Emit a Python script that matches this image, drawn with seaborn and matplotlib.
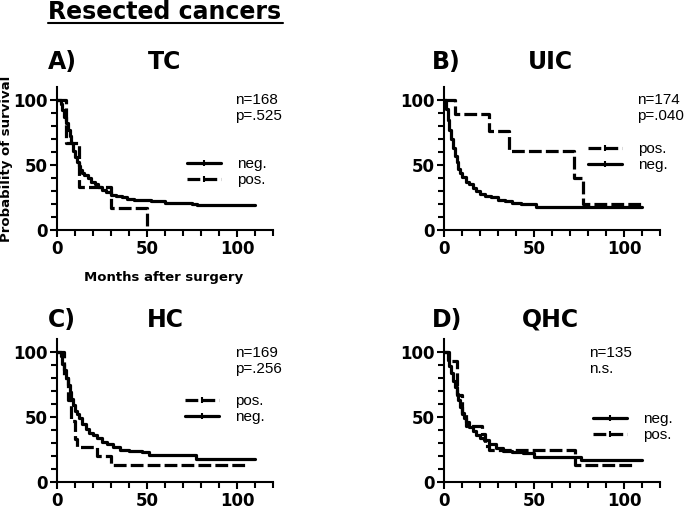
import pandas as pd
import matplotlib
matplotlib.use("Agg")
import matplotlib.pyplot as plt
import seaborn as sns
from matplotlib.lines import Line2D
from matplotlib.ticker import FixedLocator

# ----------------------------------------------------------------
# Kaplan-Meier step data (months, % survival)
# ----------------------------------------------------------------
A_neg_t = [0, 2, 3, 4, 5, 6, 7, 8, 9, 10, 11, 12, 13, 14, 15, 17, 19, 21, 23, 25, 27, 30, 33, 36, 39, 43, 47, 52, 60, 68, 75, 78, 90, 100, 110]
A_neg_s = [100, 97, 92, 87, 82, 77, 72, 67, 61, 56, 52, 49, 46, 44, 42, 40, 37, 35, 33, 31, 29, 27, 26, 25, 24, 23, 23, 22, 21, 21, 20, 19, 19, 19, 19]
A_pos_t = [0, 5, 12, 30, 50]
A_pos_s = [100, 67, 33, 17, 0]

B_neg_t = [0, 1, 2, 3, 4, 5, 6, 7, 8, 9, 10, 12, 14, 16, 18, 20, 23, 26, 30, 34, 38, 43, 48, 51, 60, 80, 100, 110]
B_neg_s = [100, 93, 85, 77, 70, 63, 57, 52, 47, 44, 41, 37, 35, 32, 30, 28, 26, 25, 23, 22, 21, 20, 20, 18, 18, 18, 18, 18]
B_pos_t = [0, 6, 25, 36, 72, 77, 110]
B_pos_s = [100, 89, 76, 61, 40, 20, 20]

C_neg_t = [0, 2, 3, 4, 5, 6, 7, 8, 9, 10, 11, 12, 14, 16, 18, 20, 22, 25, 28, 31, 35, 40, 47, 51, 60, 70, 77, 90, 110]
C_neg_s = [100, 97, 91, 86, 80, 75, 69, 64, 59, 55, 52, 49, 45, 41, 38, 36, 34, 31, 29, 27, 25, 24, 23, 21, 21, 21, 18, 18, 18]
C_pos_t = [0, 4, 6, 8, 10, 11, 22, 30, 105]
C_pos_s = [100, 80, 63, 47, 33, 27, 20, 13, 13]

D_neg_t = [0, 2, 3, 4, 5, 6, 7, 8, 9, 10, 11, 12, 14, 16, 18, 20, 22, 25, 29, 33, 38, 44, 50, 60, 72, 76, 90, 110]
D_neg_s = [100, 94, 89, 84, 78, 73, 68, 63, 58, 53, 49, 46, 42, 39, 36, 34, 32, 29, 26, 24, 23, 22, 19, 19, 19, 17, 17, 17]
D_pos_t = [0, 3, 7, 10, 12, 21, 23, 25, 73, 106]
D_pos_s = [100, 93, 67, 52, 43, 37, 28, 25, 13, 13]

panel_letters = ["A)", "B)", "C)", "D)"]
panel_titles = ["TC", "UIC", "HC", "QHC"]
panel_stats = ["n=168\np=.525", "n=174\np=.040", "n=169\np=.256", "n=135\nn.s."]
legend_orders = [["neg.", "pos."], ["pos.", "neg."], ["pos.", "neg."], ["neg.", "pos."]]

W, H = 685, 511


def px(x, y):
    return x / W, 1 - y / H


def km_frame(neg_t, neg_s, pos_t, pos_s):
    neg = pd.DataFrame({"month": neg_t, "surv": neg_s, "group": "neg."})
    pos = pd.DataFrame({"month": pos_t, "surv": pos_s, "group": "pos."})
    return pd.concat([neg, pos], ignore_index=True)


frames = [
    km_frame(A_neg_t, A_neg_s, A_pos_t, A_pos_s),
    km_frame(B_neg_t, B_neg_s, B_pos_t, B_pos_s),
    km_frame(C_neg_t, C_neg_s, C_pos_t, C_pos_s),
    km_frame(D_neg_t, D_neg_s, D_pos_t, D_pos_s),
]

# ----------------------------------------------------------------
# Layout (pixel positions measured on the reference)
# ----------------------------------------------------------------
sns.set_theme(style="ticks")
plt.rcParams["font.family"] = ["Liberation Sans", "DejaVu Sans"]
plt.rcParams.update({"text.color": "black", "axes.labelcolor": "black",
                     "xtick.color": "black", "ytick.color": "black"})
BOLD = "DejaVu Sans"   # wide heavy face, closer to the reference's bold text

LW = 2.3
DASH = (4, 1.3)
dash_map = {"neg.": "", "pos.": DASH}

axes_px = [(57, 87, 273, 230), (444, 87, 660, 230), (57, 339, 273, 482), (444, 339, 660, 482)]
title_y = [62, 62, 320, 320]
letter_x = [48, 432, 48, 432]
title_x = [165, 550, 165, 550]
stats_xy = [(235, 93), (637, 93), (235, 346), (589, 346)]
legend_xy = [(187, 157), (588, 142), (185, 394), (593, 412)]

fig = plt.figure(figsize=(W / 100, H / 100), dpi=100)

for i in range(4):
    x0, y0, x1, y1 = axes_px[i]
    ax = fig.add_axes([x0 / W, 1 - y1 / H, (x1 - x0) / W, (y1 - y0) / H])
    sns.lineplot(data=frames[i], x="month", y="surv", style="group",
                 style_order=["neg.", "pos."], dashes=dash_map, color="black",
                 lw=LW, drawstyle="steps-post", estimator=None, sort=False,
                 legend=False, ax=ax)
    ax.set_xlim(0, 120)
    ax.set_ylim(0, 110)
    ax.xaxis.set_major_locator(FixedLocator([0, 50, 100]))
    ax.xaxis.set_minor_locator(FixedLocator([10, 20, 30, 40, 60, 70, 80, 90, 110, 120]))
    ax.yaxis.set_major_locator(FixedLocator([0, 50, 100]))
    ax.yaxis.set_minor_locator(FixedLocator([10, 20, 30, 40, 60, 70, 80, 90]))
    ax.tick_params(which="both", direction="out", width=1.5, color="black")
    ax.tick_params(which="major", length=5, pad=2, labelsize=12, labelcolor="black")
    ax.tick_params(which="minor", length=4)
    for lab in ax.get_xticklabels() + ax.get_yticklabels():
        lab.set_fontweight("bold")
        lab.set_family(BOLD)
    sns.despine(ax=ax)
    for s in ["left", "bottom"]:
        ax.spines[s].set_linewidth(1.5)
        ax.spines[s].set_color("black")
    ax.set_xlabel("")
    ax.set_ylabel("")

    # legend handles carry a small censor tick, as in the original
    handles = []
    for g in legend_orders[i]:
        h = Line2D([], [], color="black", lw=LW, marker="|", markersize=4,
                   markeredgewidth=1.5)
        if dash_map[g]:
            h.set_dashes(dash_map[g])
        handles.append(h)
    ax.legend(handles, legend_orders[i], loc="upper left", numpoints=1,
              bbox_to_anchor=px(*legend_xy[i]), bbox_transform=fig.transFigure,
              frameon=False, fontsize=11, handlelength=2.2, handletextpad=1.1,
              labelspacing=0.15, borderpad=0, borderaxespad=0)

    fig.text(*px(letter_x[i], title_y[i]), panel_letters[i], fontsize=17,
             fontweight="bold", family=BOLD, ha="left", va="center")
    fig.text(*px(title_x[i], title_y[i]), panel_titles[i], fontsize=17,
             fontweight="bold", family=BOLD, ha="center", va="center")
    fig.text(*px(*stats_xy[i]), panel_stats[i], fontsize=11, ha="left",
             va="top", linespacing=1.15)

# overall title, underlined
fig.text(*px(165, 12), "Resected cancers", fontsize=17, fontweight="bold",
         family=BOLD, ha="center", va="center")
fig.add_artist(Line2D([48 / W, 283 / W], [1 - 23 / H] * 2, color="black", lw=1.5))

fig.text(*px(7, 159), "Probability of survival", fontsize=9.5, fontweight="bold",
         family=BOLD, rotation=90, ha="center", va="center")
fig.text(*px(164, 277), "Months after surgery", fontsize=9.5, fontweight="bold",
         family=BOLD, ha="center", va="center")

fig.savefig("out.png", dpi=100)
